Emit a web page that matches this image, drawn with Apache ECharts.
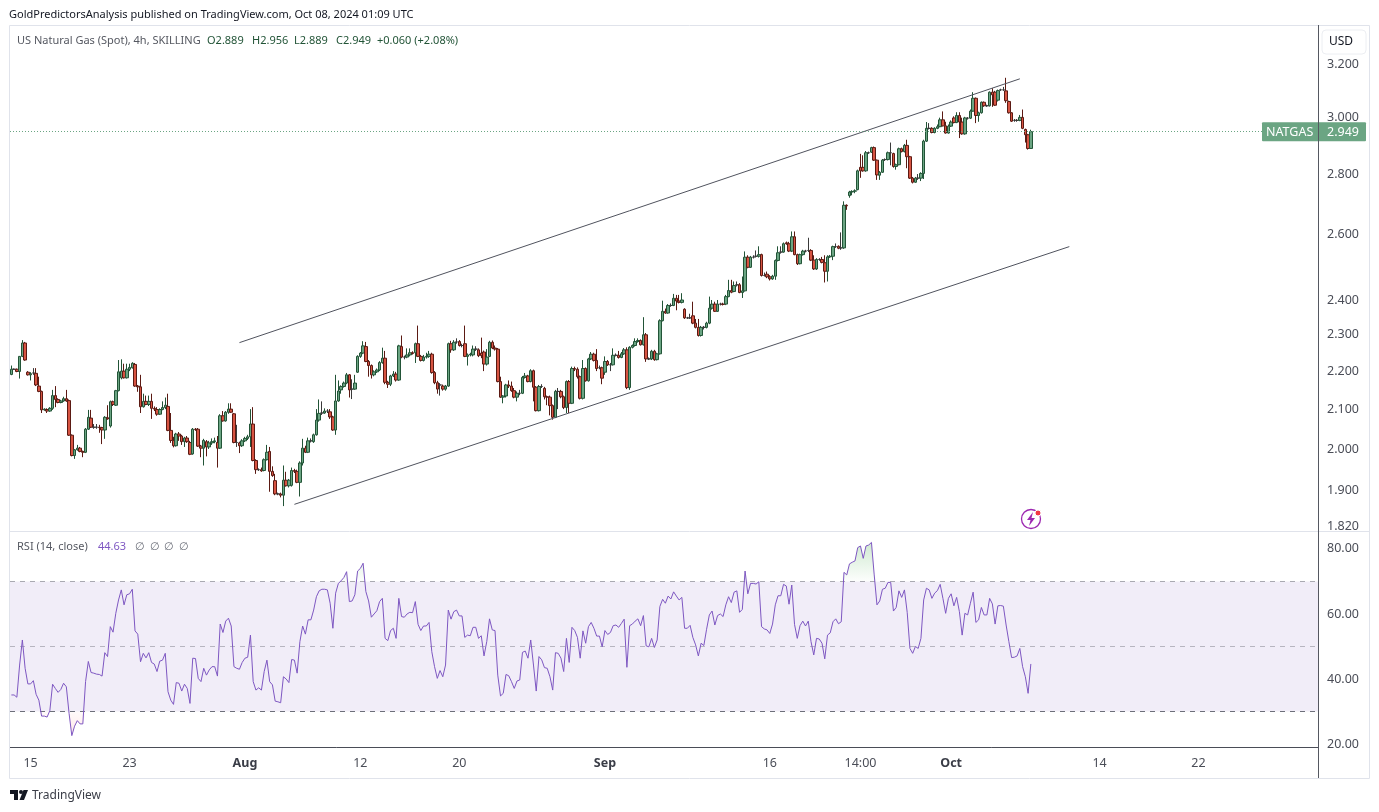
<!DOCTYPE html>
<html><head><meta charset="utf-8">
<style>html,body{margin:0;padding:0;background:#fff}#c{width:1379px;height:812px}</style>
<script src="https://cdn.jsdelivr.net/npm/echarts@6/dist/echarts.min.js"></script>
</head><body><div id="c"></div>
<script>
// rows are [open, close, low, high]
const julyCandles=[[2.191,2.205,2.189,2.215],[2.205,2.205,2.203,2.207],[2.205,2.199,2.197,2.207],[2.199,2.24,2.18,2.241],[2.24,2.277,2.238,2.285],[2.277,2.23,2.228,2.28],[2.197,2.19,2.188,2.2],[2.19,2.193,2.175,2.197],[2.195,2.195,2.19,2.208],[2.194,2.163,2.16,2.208],[2.16,2.146,2.144,2.185],[2.146,2.098,2.09,2.148],[2.098,2.1,2.096,2.102],[2.099,2.095,2.09,2.102],[2.095,2.102,2.093,2.105],[2.102,2.135,2.098,2.15],[2.135,2.125,2.105,2.16],[2.125,2.117,2.115,2.128],[2.117,2.121,2.115,2.124],[2.121,2.127,2.119,2.132],[2.127,2.121,2.119,2.15],[2.122,2.034,2.032,2.125],[2.034,1.984,1.982,2.036],[1.984,1.998,1.976,2],[1.998,2.002,1.996,2.01],[2.002,1.994,1.992,2.005],[1.994,1.992,1.98,1.996],[1.992,2.049,1.99,2.052],[2.049,2.079,2.047,2.098],[2.077,2.054,2.052,2.098],[2.054,2.054,2.05,2.062],[2.054,2.054,2.05,2.062],[2.054,2.053,2.04,2.06],[2.053,2.047,2.012,2.055],[2.047,2.079,2.025,2.082],[2.078,2.075,2.073,2.11],[2.057,2.119,2.053,2.122],[2.119,2.112,2.108,2.122],[2.11,2.148,2.108,2.15],[2.148,2.198,2.146,2.23],[2.182,2.2,2.178,2.232],[2.2,2.182,2.18,2.22],[2.182,2.205,2.18,2.22],[2.205,2.21,2.2,2.22],[2.209,2.221,2.207,2.224],[2.218,2.16,2.158,2.222],[2.16,2.158,2.145,2.163],[2.158,2.106,2.09,2.19],[2.106,2.12,2.104,2.14],[2.12,2.112,2.11,2.135],[2.112,2.12,2.108,2.135],[2.12,2.102,2.075,2.14],[2.102,2.1,2.095,2.107],[2.099,2.087,2.083,2.105],[2.087,2.099,2.085,2.102],[2.099,2.104,2.097,2.12],[2.104,2.11,2.1,2.13],[2.107,2.046,2.044,2.14],[2.046,2.021,2.015,2.09],[2.021,2.008,2.004,2.03],[2.008,2.037,2.006,2.04],[2.037,2.032,2.02,2.042],[2.032,2.018,2.01,2.035],[2.018,2.027,2.005,2.03],[2.027,2.018,2.015,2.032],[2.016,1.987,1.985,2.02],[1.988,2.049,1.986,2.052],[2.049,2.048,2.045,2.052],[2.049,2.007,2.005,2.052],[2.007,2.002,1.98,2.01],[2.002,2.021,1.96,2.025],[2.018,2.005,1.982,2.022],[2.005,2.015,2,2.02],[2.015,2.018,2.01,2.026],[2.018,2.02,2.014,2.028],[2.016,2.002,1.955,2.032],[2.002,2.083,2,2.087],[2.083,2.07,2.068,2.095],[2.07,2.092,2.068,2.095],[2.092,2.1,2.088,2.115],[2.1,2.092,2.09,2.115],[2.088,2.016,2.014,2.09],[2.016,2.016,2.005,2.06],[2.015,2.008,1.99,2.018],[2.008,2.02,2.005,2.024]];
const augustCandles=[[2.02,2.026,2.017,2.03],[2.026,2.03,2.022,2.035],[2.03,2.062,2.005,2.1],[2.062,1.972,1.97,2.105],[1.972,1.95,1.94,1.975],[1.95,1.95,1.947,1.953],[1.95,1.947,1.945,1.955],[1.948,1.974,1.946,1.977],[1.974,1.992,1.972,2.01],[1.994,1.946,1.898,2.005],[1.946,1.936,1.933,1.958],[1.924,1.893,1.89,1.94],[1.893,1.893,1.89,1.896],[1.893,1.89,1.885,1.896],[1.89,1.925,1.865,1.96],[1.925,1.912,1.91,1.945],[1.912,1.925,1.908,1.928],[1.913,1.948,1.91,1.955],[1.948,1.946,1.942,1.952],[1.946,1.92,1.918,1.95],[1.92,1.966,1.887,1.97],[1.966,2.002,1.96,2.025],[2.002,1.992,1.99,2.008],[1.992,2.02,1.99,2.028],[2.02,2.02,2.016,2.026],[2.018,2.035,2.015,2.038],[2.035,2.072,2.033,2.1],[2.072,2.089,2.068,2.125],[2.09,2.09,2.085,2.12],[2.09,2.095,2.088,2.102],[2.095,2.095,2.09,2.1],[2.093,2.08,2.075,2.1],[2.08,2.047,2.045,2.083],[2.047,2.121,2.035,2.19],[2.121,2.147,2.119,2.175],[2.15,2.159,2.14,2.162],[2.159,2.168,2.156,2.172],[2.168,2.19,2.165,2.195],[2.19,2.15,2.13,2.192],[2.152,2.152,2.126,2.178],[2.152,2.168,2.15,2.19],[2.197,2.24,2.195,2.243],[2.24,2.249,2.236,2.252],[2.249,2.269,2.246,2.282],[2.267,2.226,2.224,2.28],[2.226,2.215,2.185,2.23],[2.215,2.19,2.18,2.218],[2.19,2.198,2.186,2.202],[2.198,2.203,2.195,2.207],[2.203,2.223,2.2,2.227],[2.223,2.235,2.22,2.264],[2.235,2.17,2.165,2.255],[2.17,2.165,2.155,2.174],[2.165,2.187,2.16,2.19],[2.187,2.192,2.184,2.2],[2.192,2.176,2.172,2.198],[2.176,2.269,2.174,2.272],[2.267,2.238,2.235,2.298],[2.238,2.238,2.232,2.242],[2.238,2.244,2.235,2.262],[2.244,2.25,2.24,2.262],[2.25,2.248,2.245,2.254],[2.25,2.275,2.222,2.278],[2.275,2.24,2.238,2.326],[2.24,2.229,2.226,2.244],[2.229,2.238,2.226,2.244],[2.238,2.24,2.234,2.25],[2.24,2.246,2.236,2.255],[2.246,2.196,2.193,2.25],[2.196,2.169,2.165,2.2],[2.169,2.152,2.14,2.174],[2.163,2.163,2.135,2.168],[2.16,2.152,2.148,2.164],[2.152,2.16,2.148,2.163],[2.16,2.275,2.158,2.278],[2.275,2.258,2.25,2.283],[2.258,2.279,2.255,2.285],[2.28,2.28,2.275,2.29],[2.281,2.27,2.267,2.285],[2.27,2.27,2.265,2.275],[2.275,2.24,2.238,2.326],[2.24,2.244,2.215,2.248],[2.244,2.246,2.24,2.25],[2.244,2.26,2.24,2.27],[2.26,2.26,2.255,2.268],[2.258,2.242,2.238,2.262],[2.249,2.242,2.235,2.292],[2.252,2.219,2.2,2.256],[2.219,2.238,2.215,2.26],[2.24,2.279,2.238,2.283],[2.279,2.263,2.26,2.284],[2.263,2.26,2.256,2.27],[2.26,2.172,2.17,2.263],[2.172,2.131,2.129,2.185],[2.131,2.134,2.115,2.136],[2.134,2.163,2.13,2.166],[2.163,2.16,2.155,2.175],[2.16,2.148,2.145,2.172],[2.148,2.131,2.128,2.155],[2.131,2.141,2.12,2.146],[2.141,2.141,2.136,2.15],[2.141,2.183,2.139,2.187],[2.183,2.187,2.18,2.195],[2.187,2.172,2.17,2.19],[2.172,2.201,2.17,2.205],[2.201,2.157,2.12,2.204],[2.157,2.096,2.094,2.16],[2.096,2.159,2.094,2.163],[2.159,2.159,2.155,2.165],[2.154,2.132,2.125,2.158],[2.132,2.131,2.11,2.135],[2.131,2.109,2.084,2.135],[2.109,2.079,2.073,2.112],[2.079,2.146,2.077,2.15],[2.146,2.146,2.1,2.155],[2.146,2.132,2.128,2.15],[2.132,2.104,2.1,2.135],[2.104,2.172,2.09,2.175],[2.172,2.115,2.09,2.176],[2.115,2.207,2.113,2.212],[2.207,2.205,2.2,2.212],[2.205,2.185,2.18,2.21],[2.185,2.128,2.125,2.188],[2.128,2.207,2.125,2.23],[2.207,2.174,2.172,2.21],[2.174,2.233,2.172,2.236],[2.233,2.246,2.23,2.252],[2.246,2.229,2.226,2.25],[2.229,2.207,2.2,2.26],[2.209,2.209,2.205,2.215],[2.209,2.181,2.165,2.212]];
const septemberCandles=[[2.197,2.226,2.19,2.24],[2.226,2.217,2.214,2.23],[2.217,2.217,2.2,2.222],[2.217,2.243,2.215,2.262],[2.243,2.243,2.24,2.248],[2.243,2.237,2.234,2.255],[2.237,2.247,2.235,2.252],[2.247,2.258,2.244,2.263],[2.258,2.156,2.152,2.265],[2.156,2.265,2.15,2.268],[2.265,2.27,2.262,2.273],[2.27,2.281,2.267,2.29],[2.281,2.284,2.278,2.29],[2.284,2.272,2.27,2.287],[2.272,2.3,2.27,2.35],[2.3,2.233,2.225,2.305],[2.233,2.233,2.23,2.237],[2.233,2.254,2.23,2.258],[2.254,2.231,2.228,2.258],[2.231,2.247,2.229,2.25],[2.247,2.34,2.245,2.344],[2.34,2.367,2.338,2.398],[2.367,2.362,2.36,2.375],[2.362,2.384,2.36,2.388],[2.384,2.384,2.38,2.39],[2.384,2.405,2.382,2.418],[2.405,2.397,2.37,2.415],[2.397,2.393,2.39,2.415],[2.393,2.4,2.39,2.42],[2.373,2.348,2.345,2.376],[2.348,2.348,2.345,2.351],[2.348,2.348,2.345,2.36],[2.354,2.333,2.33,2.395],[2.333,2.321,2.318,2.345],[2.321,2.298,2.295,2.345],[2.298,2.321,2.295,2.325],[2.321,2.321,2.315,2.325],[2.321,2.333,2.318,2.337],[2.333,2.376,2.33,2.41],[2.376,2.388,2.372,2.4],[2.388,2.367,2.365,2.395],[2.367,2.388,2.365,2.4],[2.388,2.388,2.384,2.392],[2.388,2.387,2.384,2.392],[2.388,2.41,2.385,2.415],[2.41,2.428,2.408,2.46],[2.428,2.423,2.42,2.46],[2.425,2.443,2.423,2.455],[2.445,2.445,2.44,2.455],[2.445,2.422,2.42,2.45],[2.422,2.427,2.406,2.47],[2.427,2.529,2.425,2.547],[2.529,2.498,2.495,2.535],[2.498,2.529,2.496,2.533],[2.529,2.529,2.525,2.535],[2.532,2.532,2.528,2.55],[2.532,2.537,2.528,2.563],[2.537,2.473,2.47,2.54],[2.473,2.473,2.47,2.482],[2.477,2.469,2.465,2.485],[2.469,2.463,2.458,2.474],[2.463,2.471,2.46,2.475],[2.471,2.519,2.46,2.522],[2.519,2.543,2.516,2.563],[2.545,2.545,2.54,2.563],[2.545,2.571,2.543,2.575],[2.574,2.571,2.568,2.578],[2.571,2.548,2.545,2.577],[2.548,2.593,2.545,2.61],[2.593,2.537,2.535,2.61],[2.537,2.509,2.505,2.54],[2.509,2.537,2.507,2.54],[2.537,2.548,2.534,2.552],[2.548,2.548,2.544,2.552],[2.55,2.55,2.545,2.59],[2.55,2.52,2.517,2.554],[2.52,2.493,2.49,2.535],[2.493,2.522,2.49,2.526],[2.522,2.522,2.518,2.526],[2.522,2.513,2.51,2.53],[2.512,2.486,2.452,2.535],[2.486,2.53,2.455,2.535],[2.53,2.532,2.527,2.536],[2.532,2.562,2.52,2.565],[2.562,2.562,2.558,2.572],[2.563,2.557,2.554,2.566],[2.558,2.558,2.552,2.607],[2.558,2.695,2.555,2.708],[2.695,2.693,2.68,2.698],[2.727,2.739,2.72,2.743],[2.739,2.741,2.728,2.745],[2.742,2.743,2.735,2.748],[2.747,2.811,2.745,2.815],[2.823,2.811,2.787,2.87],[2.823,2.811,2.808,2.865],[2.811,2.874,2.808,2.88],[2.874,2.874,2.87,2.878],[2.876,2.892,2.873,2.895],[2.892,2.848,2.845,2.896],[2.848,2.797,2.78,2.85],[2.796,2.806,2.78,2.81],[2.806,2.848,2.804,2.852],[2.85,2.85,2.845,2.854],[2.85,2.874,2.847,2.878],[2.874,2.874,2.83,2.91],[2.871,2.826,2.822,2.874],[2.826,2.832,2.815,2.836],[2.832,2.888,2.83,2.892],[2.888,2.878,2.875,2.892],[2.878,2.9,2.875,2.905],[2.9,2.86,2.82,2.92],[2.86,2.786,2.783,2.863],[2.786,2.772,2.768,2.79],[2.772,2.786,2.77,2.79],[2.786,2.786,2.78,2.8],[2.786,2.802,2.776,2.806],[2.802,2.915,2.783,2.92]];
const octoberCandles=[[2.915,2.961,2.912,2.984],[2.961,2.961,2.957,2.98],[2.961,2.946,2.943,2.965],[2.946,2.961,2.943,2.965],[2.961,2.967,2.958,2.975],[2.967,2.992,2.965,3.0],[2.992,2.97,2.968,3.023],[2.97,2.944,2.942,2.985],[2.944,2.969,2.942,2.975],[2.969,2.984,2.966,2.99],[2.999,2.982,2.979,3.005],[2.982,3.008,2.98,3.02],[3.008,2.984,2.926,3.02],[2.984,2.941,2.938,3.0],[2.941,2.999,2.938,3.003],[2.998,2.998,2.993,3.002],[2.998,3.024,2.995,3.03],[3.024,3.072,3.022,3.095],[3.072,3.008,2.98,3.075],[3.008,3.018,2.985,3.022],[3.018,3.057,3.015,3.06],[3.057,3.044,3.04,3.06],[3.044,3.044,3.04,3.048],[3.044,3.095,3.041,3.098],[3.095,3.085,3.04,3.11],[3.095,3.046,3.043,3.1],[3.065,3.101,3.06,3.105],[3.104,3.104,3.1,3.108],[3.104,3.104,3.1,3.115],[3.1,3.063,3.055,3.15],[3.06,3.018,3.015,3.063],[3.018,2.987,2.984,3.02],[2.99,2.99,2.985,2.995],[2.99,2.99,2.985,2.995],[2.99,3.001,2.987,3.01],[3.001,2.961,2.958,3.03],[2.957,2.938,2.91,2.96],[2.938,2.889,2.885,2.941],[2.889,2.949,2.889,2.956]];
const rsiPartA=[35.1,35.1,34.4,44.3,52.0,43.3,38.5,38.5,39.5,35.3,33.5,28.6,28.6,28.3,30.3,38.4,37.1,35.9,36.8,38.7,37.6,29.4,22.6,25.5,27.2,26.2,26.2,39.2,45.4,42,41.8,41.5,41.4,40.9,48.1,46.9,56.1,54.4,60.2,64.3,67.4,62.8,65.9,66.2,67.6,54.8,53.8,45.3,47.9,46.5,48.1,45.1,44.6,42.3,45.5,45.8,47.9,36.1,33.5,32.2,38.9,38.7,36.3,38.4,37.1,32.5,46.4,46.3,40.2,39.2,43.3,41.2,42.8,43.8,43.8,40.9,56.9,54.3,57.8,58.7,56.3,43.8,43.3,43,45.1,46.4,46.7,53.5,39.2,36.6,37.3];
const rsiPartB=[36.6,42.3,45.8,39.2,38.2,33.2,33,32.7,40.7,40,38.9,46,45.8,41.8,51.5,56.3,53.8,58.2,58.2,61.2,65.3,67.1,67.6,67.6,67.4,63.3,55.6,66.4,69.4,70.2,71.2,73,63.8,64,65.9,73.2,74,75.6,66.9,64,59,60,61,63.8,64.8,52.5,51.8,54.9,55.6,52.5,64.8,59.2,59,60,60.5,60.4,63.8,56.8,54.9,56.3,56.3,57.4,48.4,43.8,40.2,42.6,40.7,44.3,61.2,58.4,60.7,61.2,59.4,59.4,52.8,53.5,53.3,55.9,55.9,52.5,53.3,47.1,51.5,58.5,55.1,54.9,41.2,34.8,35.6,41.4,41,39.2,37.1,39.4];
const rsiPartC=[39.7,48.2,48.6,46.4,52,44.3,36.3,46.9,45.9,43.5,43.3,40.7,36.6,48.1,47.9,46.4,42.3,52.5,45.1,55.9,54.9,52.8,46.4,54.8,51,56.1,57.4,55.6,53.2,53.2,49.9,54.9,53.7,54.3,56.4,56.6,55.9,57.1,58.4,43.6,56.4,56.9,57.8,58.5,56.4,59.5,50.2,49.9,52.5,49.7,52,62.3,64.5,63.3,65.5,64.6,66.8,65.5,64.3,65.1,55.6,55.6,56.5,52.8,50.5,47.1,51,50.3,55.3,59.7,60.9,56.6,59.5,60,59.2,62.8,65.3,63.5,66.7,67.1,60.5,61.4,73.2,66.2,69.4,69.4,69.2,69.9,56.1,55.4,55.1,54,56.9,62.8,65.6];
const rsiPartD=[65.6,69.1,68.6,63,68.9,56.8,52.5,56.4,57.8,56.3,57.8,51.5,47.4,52.5,52.3,51,46.2,53.5,54.2,57.6,58.5,57,57.6,72.8,72,75.4,75.9,76.3,80.4,80.9,77.1,80.9,81.2,82,72,62.8,64,67.6,67.9,69.7,69.7,60.9,62,67.1,65.1,67.4,60.5,49.4,47.9,50,49.4,52.5,64.3,67.9,67.4,64.8,66.4,67.2,69.1,64.8,60.2,64.8,66.2,62.5,65.1,60.7,53.5,60.2,59.7,63.3,66.7,57.4,58.2,62,59.7,59.7,64.8,63.1,56.9,62.5,62.6,62.4,56.6,51.5,46.6,46.7,47.1,49.4,43.8,40.7,35.6,44.63];
const channelUpper=[[83,2.278],[367,3.146]];
const channelLower=[[103,1.869],[385,2.562]];
const priceTicks=[1.82,1.9,2.0,2.1,2.2,2.3,2.4,2.6,2.8,3.0,3.2];
const rsiTicks=[20,40,60,80];
const timeTickSlots=[7,43,85,127,163,216,276,309,342,396,432];
const timeTickNames=['15','23','Aug','12','20','Sep','16','14:00','Oct','14','22'];
const boldTicks=['Aug','Sep','Oct'];
const slotCount=476;

const candles=[...julyCandles,...augustCandles,...septemberCandles,...octoberCandles];
const rsi=[...rsiPartA,...rsiPartB,...rsiPartC,...rsiPartD];
const lastClose=candles[candles.length-1][1];
const slots=Array.from({length:slotCount},(_,i)=>String(i));
const F='"Noto Sans"';
const UP='#6ba583',DOWN='#d75442',UPB='#225437',DOWNB='#5b1a13';
const AX='#555861';
const chart=echarts.init(document.getElementById('c'),null,{renderer:'canvas'});
const L=10,R=61;
function xAxisBase(grid,show){return {type:'category',gridIndex:grid,data:slots,boundaryGap:true,
  axisTick:{show:false},splitLine:{show:false},
  axisLine:{show:show,onZero:false,lineStyle:{color:'#4a4d57',width:1}},
  axisLabel:{show:show,margin:10,fontFamily:F,fontSize:12.5,color:'#4a4d57',
    interval:(i)=>timeTickSlots.includes(i),
    formatter:(v)=>{const k=timeTickSlots.indexOf(+v);if(k<0)return '';const n=timeTickNames[k];return boldTicks.includes(n)?`{b|${n}}`:n;},
    rich:{b:{fontWeight:'bold',fontFamily:F,fontSize:12.5,color:'#3a3d47'}}}};}
chart.setOption({
  animation:false,backgroundColor:'#fff',
  grid:[{left:L,right:R,top:27,height:504},{left:L,right:R,top:532,height:215}],
  xAxis:[xAxisBase(0,false),xAxisBase(1,true)],
  yAxis:[
   {type:'log',logBase:10,gridIndex:0,position:'right',min:1.809,max:3.352,scale:true,splitLine:{show:false},minorSplitLine:{show:false},
    axisLine:{show:true,lineStyle:{color:AX}},axisTick:{show:false},minorTick:{show:false},
    axisLabel:{margin:9,fontFamily:F,fontSize:12.5,color:'#4a4d57',padding:[2,0,0,0],customValues:priceTicks,formatter:(v)=>(+v).toFixed(3)}},
   {type:'value',gridIndex:1,position:'right',min:19.1,max:85.2,splitLine:{show:false},
    axisLine:{show:true,lineStyle:{color:AX}},axisTick:{show:false},
    axisLabel:{margin:9,fontFamily:F,fontSize:12.5,color:'#4a4d57',padding:[2,0,0,0],customValues:rsiTicks,formatter:(v)=>(+v).toFixed(2)}}
  ],
  series:[
   {type:'candlestick',xAxisIndex:0,yAxisIndex:0,data:candles,barWidth:3,silent:true,
    itemStyle:{color:UP,color0:DOWN,borderColor:UPB,borderColor0:DOWNB,borderColorDoji:'#3a3a3a',borderWidth:1},
    markLine:{silent:true,symbol:'none',animation:false,label:{show:false},data:[
      [{coord:channelUpper[0],lineStyle:{color:'#50535e',width:1,type:'solid'}},{coord:channelUpper[1]}],
      [{coord:channelLower[0],lineStyle:{color:'#50535e',width:1,type:'solid'}},{coord:channelLower[1]}],
      {yAxis:lastClose,lineStyle:{color:UP,width:1,type:[1,2]}}
    ]}},
   {type:'line',xAxisIndex:1,yAxisIndex:1,data:rsi.map(v=>Math.max(v,70)),showSymbol:false,silent:true,lineStyle:{width:0},
    areaStyle:{origin:70,color:new echarts.graphic.LinearGradient(0,0,0,1,[{offset:0,color:'rgba(76,175,80,0.38)'},{offset:1,color:'rgba(76,175,80,0.02)'}])}},
   {type:'line',xAxisIndex:1,yAxisIndex:1,data:rsi.map(v=>Math.min(v,30)),showSymbol:false,silent:true,lineStyle:{width:0},
    areaStyle:{origin:30,color:new echarts.graphic.LinearGradient(0,0,0,1,[{offset:0,color:'rgba(255,82,82,0.04)'},{offset:1,color:'rgba(255,82,82,0.2)'}])}},
   {type:'line',xAxisIndex:1,yAxisIndex:1,data:rsi,showSymbol:false,silent:true,z:5,
    lineStyle:{color:'#7e57c2',width:1},
    markArea:{silent:true,itemStyle:{color:'rgba(126,87,194,0.11)'},data:[[{yAxis:70},{yAxis:30}]]},
    markLine:{silent:true,symbol:'none',label:{show:false},data:[
      {yAxis:70,lineStyle:{color:'#a9a9b1',width:1,type:[5,5]}},
      {yAxis:50,lineStyle:{color:'#b7b5c0',width:1,type:[5,5]}},
      {yAxis:30,lineStyle:{color:'#6d6f7a',width:1,type:[5,5]}}
    ]}}
  ]
});
const priceY=chart.convertToPixel({yAxisIndex:0},lastClose);
const txt=(x,y,t,color,extra)=>({type:'text',z:120,style:Object.assign({x,y,text:t,fill:color,font:`11px ${F}`,textVerticalAlign:'middle'},extra||{})});
const hline=(x1,y1,x2,y2,c)=>({type:'line',z:110,shape:{x1,y1,x2,y2},style:{stroke:c,lineWidth:1}});
const G='#225437';
chart.setOption({graphic:[
  hline(9.5,25.5,1369.5,25.5,'#e0e3eb'),hline(9.5,25.5,9.5,778.5,'#e0e3eb'),hline(1369.5,25.5,1369.5,778.5,'#e0e3eb'),hline(9.5,778.5,1369.5,778.5,'#e0e3eb'),
  hline(9.5,531.5,1369.5,531.5,'#e0e3eb'),
  {type:'rect',z:100,shape:{x:1319,y:532,width:50,height:8},style:{fill:'#fff'}},
  hline(1318.5,25,1318.5,778,AX),
  {type:'rect',z:105,shape:{x:1262,y:priceY-9.5,width:104,height:19,r:1},style:{fill:UP}},
  hline(1318.5,priceY-10,1318.5,priceY+10,AX),
  txt(1266,priceY+1,'NATGAS','#fff',{font:`12.5px ${F}`}),
  txt(1327,priceY+1,lastClose.toFixed(3),'#fff',{font:`12.5px ${F}`}),
  {type:'rect',z:105,shape:{x:1322,y:30,width:44,height:24,r:4},style:{fill:'#fff',stroke:'#eceef2'}},
  txt(1341,42,'USD','#131722',{font:`12px ${F}`,textAlign:'center'}),
  txt(9,15,'GoldPredictorsAnalysis published on TradingView.com, Oct 08, 2024 01:09 UTC','#131722',{font:`11px ${F}`}),
  txt(17,41,'US Natural Gas (Spot), 4h, SKILLING','#555861'),
  txt(207,41,'O2.889',G),txt(252,41,'H2.956',G),txt(294,41,'L2.889',G),txt(336,41,'C2.949',G),txt(377,41,'+0.060 (+2.08%)',G),
  txt(17,547,'RSI (14, close)','#555861'),txt(98,547,'44.63','#7e57c2'),
  txt(135,547,'∅','#6a6d78'),txt(150,547,'∅','#6a6d78'),txt(164,547,'∅','#6a6d78'),txt(179,547,'∅','#6a6d78'),
  // publication icon
  {type:'circle',z:115,shape:{cx:1031,cy:519,r:9.5},style:{fill:'#fff',stroke:'#9c27b0',lineWidth:1.3}},
  {type:'polygon',z:116,shape:{points:[[1033,512],[1027,520],[1030.5,520],[1029,526],[1035,518],[1031.5,518]]},style:{fill:'#9c27b0'}},
  {type:'circle',z:117,shape:{cx:1038,cy:513,r:3},style:{fill:'#f23645',stroke:'#fff',lineWidth:1}},
  // footer mark
  {type:'polygon',z:115,shape:{points:[[10,790],[18,790],[18,800],[14,800],[14,794],[10,794]]},style:{fill:'#131722'}},
  {type:'circle',z:115,shape:{cx:21,cy:792,r:2},style:{fill:'#131722'}},
  {type:'polygon',z:115,shape:{points:[[23.5,790],[28,790],[24,800],[19.5,800]]},style:{fill:'#131722'}},
  txt(32,796,'TradingView','#3a3d47',{font:`12px ${F}`})
]});
</script></body></html>
